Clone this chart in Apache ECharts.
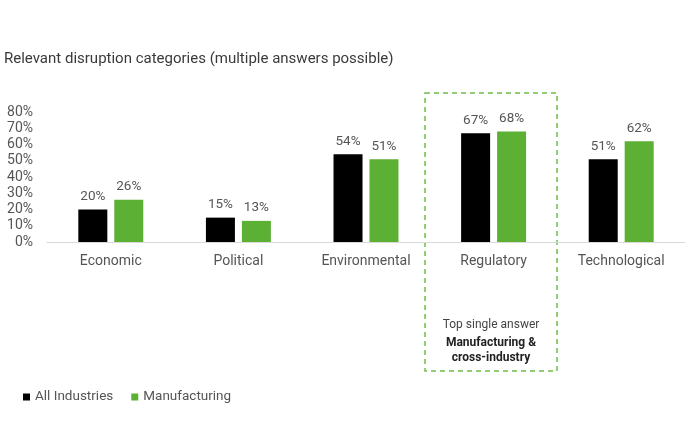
<!DOCTYPE html>
<html lang="en">
<head>
<meta charset="UTF-8">
<title>Relevant disruption categories</title>
<script src="https://cdn.jsdelivr.net/npm/echarts@6/dist/echarts.min.js"></script>
<style>
  html, body { margin: 0; padding: 0; background: #fff; }
  #main { width: 700px; height: 441px; }
</style>
</head>
<body>
<div id="main"></div>
<script>
// data
var categories = ['Economic', 'Political', 'Environmental', 'Regulatory', 'Technological'];
var allIndustries = [20, 15, 54, 67, 51];
var manufacturing = [26, 13, 51, 68, 62];
var seriesNames = ['All Industries', 'Manufacturing'];
var noteLines = ['Top single answer', 'Manufacturing &', 'cross-industry'];

var font = 'Roboto, "Noto Sans", sans-serif';
var textGrey = '#555';

var chart = echarts.init(document.getElementById('main'));

var valueLabel = {
    show: true,
    position: 'top',
    distance: 6,
    formatter: '{c}%',
    color: textGrey,
    fontFamily: font,
    fontSize: 13.5
};

chart.setOption({
    animation: false,
    textStyle: { fontFamily: font },
    title: {
        text: 'Relevant disruption categories (multiple answers possible)',
        left: -1,
        top: 47,
        textStyle: { fontSize: 15, fontWeight: 'normal', color: '#3a3a3a' }
    },
    legend: {
        data: seriesNames,
        left: 18,
        top: 385,
        icon: 'rect',
        itemWidth: 7,
        itemHeight: 7,
        itemGap: 18,
        textStyle: { fontSize: 13.5, color: textGrey }
    },
    grid: { left: 47, right: 15, top: 112, bottom: 199 },
    xAxis: {
        type: 'category',
        data: categories,
        axisTick: { show: false },
        axisLine: { lineStyle: { color: '#d9d9d9', width: 1 } },
        axisLabel: { color: textGrey, fontSize: 14, margin: 12 }
    },
    yAxis: {
        type: 'value',
        min: 0,
        max: 80,
        interval: 10,
        splitLine: { show: false },
        axisLine: { show: false },
        axisTick: { show: false },
        axisLabel: { formatter: '{value}%', color: textGrey, fontSize: 14, margin: 14 }
    },
    series: [
        {
            name: seriesNames[0],
            type: 'bar',
            data: allIndustries,
            barWidth: 29,
            barGap: '24%',
            itemStyle: { color: '#000' },
            label: valueLabel
        },
        {
            name: seriesNames[1],
            type: 'bar',
            data: manufacturing,
            barWidth: 29,
            itemStyle: { color: '#5cb033' },
            label: valueLabel
        }
    ],
    graphic: [
        {
            type: 'rect',
            shape: { x: 425, y: 93, width: 132, height: 278 },
            style: { fill: 'none', stroke: '#6cc04a', lineWidth: 1.5, lineDash: [5, 4] },
            silent: true
        },
        {
            type: 'text',
            x: 491, y: 319,
            style: {
                text: noteLines[0],
                align: 'center',
                fill: '#444',
                font: '12px ' + font
            }
        },
        {
            type: 'text',
            x: 491, y: 335,
            style: {
                text: noteLines[1] + '\n' + noteLines[2],
                align: 'center',
                lineHeight: 15,
                fill: '#222',
                font: 'bold 12px ' + font
            }
        }
    ]
});
</script>
</body>
</html>
